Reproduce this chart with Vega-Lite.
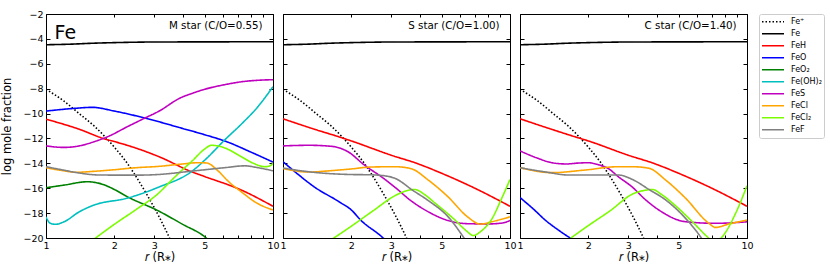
{
  "$schema": "https://vega.github.io/schema/vega-lite/v6.json",
  "padding": {"left": 1, "top": 9, "right": 4, "bottom": 2},
  "spacing": 10,
  "bounds": "flush",
  "config": {
    "font": "DejaVu Sans",
    "view": {"stroke": null},
    "axis": {"domainColor": "black", "domainWidth": 1, "tickColor": "black", "tickWidth": 1, "labelColor": "black", "labelFont": "DejaVu Sans", "labelFontSize": 9.5, "titleFont": "DejaVu Sans", "titleFontWeight": "normal", "titleColor": "black", "titleFontSize": 11.5, "grid": false, "labelFlush": false, "labelOverlap": false, "labelBound": false},
    "axisX": {"tickSize": -3, "labelPadding": 5, "titlePadding": 1.5},
    "axisY": {"tickSize": -4, "labelPadding": 7, "titlePadding": 10},
    "legend": {"orient": "right", "offset": 5, "padding": 2, "strokeColor": "#cccccc", "strokeWidth": 1, "cornerRadius": 2, "fillColor": "white", "symbolType": "stroke", "symbolSize": 484, "symbolStrokeWidth": 1.5, "labelFontSize": 8, "labelFont": "DejaVu Sans", "labelColor": "black", "clipHeight": 11.55, "rowPadding": 0, "labelOffset": 6, "labelLimit": 200}
  },
  "datasets": {
    "curves": [
      {"star":"M","species":"Fe⁺","r":1,"v":-8.05},{"star":"M","species":"Fe⁺","r":1.2,"v":-9.0},{"star":"M","species":"Fe⁺","r":1.4,"v":-10.0},{"star":"M","species":"Fe⁺","r":1.63,"v":-11.0},{"star":"M","species":"Fe⁺","r":2,"v":-12.7},{"star":"M","species":"Fe⁺","r":2.28,"v":-14.0},{"star":"M","species":"Fe⁺","r":2.44,"v":-14.8},{"star":"M","species":"Fe⁺","r":2.8,"v":-16.6},{"star":"M","species":"Fe⁺","r":3.15,"v":-18.3},{"star":"M","species":"Fe⁺","r":3.5,"v":-20.0},{"star":"M","species":"Fe⁺","r":3.6,"v":-20.5},
      {"star":"S","species":"Fe⁺","r":1,"v":-8.05},{"star":"S","species":"Fe⁺","r":1.2,"v":-9.0},{"star":"S","species":"Fe⁺","r":1.4,"v":-10.0},{"star":"S","species":"Fe⁺","r":1.63,"v":-11.0},{"star":"S","species":"Fe⁺","r":2,"v":-12.7},{"star":"S","species":"Fe⁺","r":2.28,"v":-14.0},{"star":"S","species":"Fe⁺","r":2.44,"v":-14.8},{"star":"S","species":"Fe⁺","r":2.8,"v":-16.6},{"star":"S","species":"Fe⁺","r":3.15,"v":-18.3},{"star":"S","species":"Fe⁺","r":3.5,"v":-20.0},{"star":"S","species":"Fe⁺","r":3.6,"v":-20.5},
      {"star":"C","species":"Fe⁺","r":1,"v":-8.05},{"star":"C","species":"Fe⁺","r":1.2,"v":-9.0},{"star":"C","species":"Fe⁺","r":1.4,"v":-10.0},{"star":"C","species":"Fe⁺","r":1.63,"v":-11.0},{"star":"C","species":"Fe⁺","r":2,"v":-12.7},{"star":"C","species":"Fe⁺","r":2.28,"v":-14.0},{"star":"C","species":"Fe⁺","r":2.44,"v":-14.8},{"star":"C","species":"Fe⁺","r":2.8,"v":-16.6},{"star":"C","species":"Fe⁺","r":3.15,"v":-18.3},{"star":"C","species":"Fe⁺","r":3.5,"v":-20.0},{"star":"C","species":"Fe⁺","r":3.6,"v":-20.5},
      {"star":"M","species":"Fe","r":1,"v":-4.47},{"star":"M","species":"Fe","r":1.3,"v":-4.42},{"star":"M","species":"Fe","r":1.6,"v":-4.35},{"star":"M","species":"Fe","r":2,"v":-4.3},{"star":"M","species":"Fe","r":3,"v":-4.25},{"star":"M","species":"Fe","r":5,"v":-4.24},{"star":"M","species":"Fe","r":10,"v":-4.23},
      {"star":"S","species":"Fe","r":1,"v":-4.47},{"star":"S","species":"Fe","r":1.3,"v":-4.42},{"star":"S","species":"Fe","r":1.6,"v":-4.35},{"star":"S","species":"Fe","r":2,"v":-4.3},{"star":"S","species":"Fe","r":3,"v":-4.25},{"star":"S","species":"Fe","r":5,"v":-4.24},{"star":"S","species":"Fe","r":10,"v":-4.23},
      {"star":"C","species":"Fe","r":1,"v":-4.47},{"star":"C","species":"Fe","r":1.3,"v":-4.42},{"star":"C","species":"Fe","r":1.6,"v":-4.35},{"star":"C","species":"Fe","r":2,"v":-4.3},{"star":"C","species":"Fe","r":3,"v":-4.25},{"star":"C","species":"Fe","r":5,"v":-4.24},{"star":"C","species":"Fe","r":10,"v":-4.23},
      {"star":"M","species":"FeH","r":1,"v":-10.45},{"star":"M","species":"FeH","r":1.37,"v":-11.2},{"star":"M","species":"FeH","r":1.86,"v":-12.1},{"star":"M","species":"FeH","r":2,"v":-12.25},{"star":"M","species":"FeH","r":3.15,"v":-13.47},{"star":"M","species":"FeH","r":4.37,"v":-14.67},{"star":"M","species":"FeH","r":5,"v":-15.06},{"star":"M","species":"FeH","r":7.24,"v":-16.14},{"star":"M","species":"FeH","r":10,"v":-17.45},
      {"star":"S","species":"FeH","r":1,"v":-10.42},{"star":"S","species":"FeH","r":1.37,"v":-11.25},{"star":"S","species":"FeH","r":1.77,"v":-11.88},{"star":"S","species":"FeH","r":2,"v":-12.2},{"star":"S","species":"FeH","r":3,"v":-13.35},{"star":"S","species":"FeH","r":3.88,"v":-14.0},{"star":"S","species":"FeH","r":5,"v":-14.8},{"star":"S","species":"FeH","r":7,"v":-16.0},{"star":"S","species":"FeH","r":10,"v":-17.45},
      {"star":"C","species":"FeH","r":1,"v":-10.42},{"star":"C","species":"FeH","r":1.37,"v":-11.25},{"star":"C","species":"FeH","r":1.77,"v":-11.9},{"star":"C","species":"FeH","r":2,"v":-12.2},{"star":"C","species":"FeH","r":3,"v":-13.35},{"star":"C","species":"FeH","r":3.88,"v":-14.0},{"star":"C","species":"FeH","r":5,"v":-14.8},{"star":"C","species":"FeH","r":7,"v":-16.0},{"star":"C","species":"FeH","r":10,"v":-17.45},
      {"star":"M","species":"FeO","r":1,"v":-9.8},{"star":"M","species":"FeO","r":1.3,"v":-9.6},{"star":"M","species":"FeO","r":1.6,"v":-9.5},{"star":"M","species":"FeO","r":2,"v":-9.8},{"star":"M","species":"FeO","r":2.78,"v":-10.4},{"star":"M","species":"FeO","r":4,"v":-11.2},{"star":"M","species":"FeO","r":5,"v":-11.7},{"star":"M","species":"FeO","r":6.25,"v":-12.26},{"star":"M","species":"FeO","r":8,"v":-13.1},{"star":"M","species":"FeO","r":10,"v":-13.9},
      {"star":"S","species":"FeO","r":1,"v":-13.87},{"star":"S","species":"FeO","r":1.15,"v":-14.8},{"star":"S","species":"FeO","r":1.37,"v":-15.88},{"star":"S","species":"FeO","r":1.77,"v":-17.1},{"star":"S","species":"FeO","r":2.0,"v":-17.75},{"star":"S","species":"FeO","r":2.21,"v":-18.6},{"star":"S","species":"FeO","r":2.7,"v":-19.84},{"star":"S","species":"FeO","r":2.8,"v":-20.1},
      {"star":"C","species":"FeO","r":1,"v":-16.75},{"star":"C","species":"FeO","r":1.15,"v":-17.7},{"star":"C","species":"FeO","r":1.29,"v":-18.55},{"star":"C","species":"FeO","r":1.5,"v":-19.45},{"star":"C","species":"FeO","r":1.68,"v":-20.05},
      {"star":"M","species":"FeO₂","r":1,"v":-15.96},{"star":"M","species":"FeO₂","r":1.2,"v":-15.75},{"star":"M","species":"FeO₂","r":1.52,"v":-15.48},{"star":"M","species":"FeO₂","r":1.75,"v":-15.65},{"star":"M","species":"FeO₂","r":2,"v":-16.1},{"star":"M","species":"FeO₂","r":2.28,"v":-16.68},{"star":"M","species":"FeO₂","r":3.11,"v":-17.8},{"star":"M","species":"FeO₂","r":4,"v":-18.9},{"star":"M","species":"FeO₂","r":5,"v":-19.9},{"star":"M","species":"FeO₂","r":5.3,"v":-20.3},
      {"star":"M","species":"Fe(OH)₂","r":1,"v":-18.3},{"star":"M","species":"Fe(OH)₂","r":1.04,"v":-18.8},{"star":"M","species":"Fe(OH)₂","r":1.1,"v":-18.9},{"star":"M","species":"Fe(OH)₂","r":1.2,"v":-18.7},{"star":"M","species":"Fe(OH)₂","r":1.4,"v":-17.9},{"star":"M","species":"Fe(OH)₂","r":1.63,"v":-17.35},{"star":"M","species":"Fe(OH)₂","r":2.28,"v":-16.8},{"star":"M","species":"Fe(OH)₂","r":3.15,"v":-15.9},{"star":"M","species":"Fe(OH)₂","r":4.37,"v":-14.67},{"star":"M","species":"Fe(OH)₂","r":5.1,"v":-13.6},{"star":"M","species":"Fe(OH)₂","r":6.12,"v":-12.13},{"star":"M","species":"Fe(OH)₂","r":7.3,"v":-10.8},{"star":"M","species":"Fe(OH)₂","r":8.58,"v":-9.45},{"star":"M","species":"Fe(OH)₂","r":10,"v":-7.84},
      {"star":"M","species":"FeS","r":1,"v":-12.6},{"star":"M","species":"FeS","r":1.2,"v":-12.72},{"star":"M","species":"FeS","r":1.4,"v":-12.6},{"star":"M","species":"FeS","r":1.63,"v":-12.26},{"star":"M","species":"FeS","r":1.9,"v":-11.8},{"star":"M","species":"FeS","r":2.28,"v":-11.06},{"star":"M","species":"FeS","r":2.7,"v":-10.4},{"star":"M","species":"FeS","r":3.15,"v":-9.8},{"star":"M","species":"FeS","r":3.9,"v":-8.75},{"star":"M","species":"FeS","r":4.37,"v":-8.4},{"star":"M","species":"FeS","r":5,"v":-8.05},{"star":"M","species":"FeS","r":6.25,"v":-7.65},{"star":"M","species":"FeS","r":7.24,"v":-7.45},{"star":"M","species":"FeS","r":8.5,"v":-7.33},{"star":"M","species":"FeS","r":10,"v":-7.28},
      {"star":"S","species":"FeS","r":1,"v":-12.6},{"star":"S","species":"FeS","r":1.3,"v":-12.55},{"star":"S","species":"FeS","r":1.63,"v":-12.63},{"star":"S","species":"FeS","r":1.93,"v":-13.06},{"star":"S","species":"FeS","r":2.28,"v":-14.13},{"star":"S","species":"FeS","r":2.77,"v":-15.2},{"star":"S","species":"FeS","r":3.15,"v":-16.0},{"star":"S","species":"FeS","r":3.63,"v":-16.95},{"star":"S","species":"FeS","r":4.37,"v":-17.9},{"star":"S","species":"FeS","r":5.34,"v":-18.6},{"star":"S","species":"FeS","r":6.5,"v":-18.85},{"star":"S","species":"FeS","r":8,"v":-18.87},{"star":"S","species":"FeS","r":9.2,"v":-18.8},{"star":"S","species":"FeS","r":10,"v":-18.6},
      {"star":"C","species":"FeS","r":1,"v":-13.0},{"star":"C","species":"FeS","r":1.2,"v":-13.6},{"star":"C","species":"FeS","r":1.38,"v":-13.95},{"star":"C","species":"FeS","r":1.6,"v":-14.05},{"star":"C","species":"FeS","r":1.8,"v":-13.98},{"star":"C","species":"FeS","r":2.0,"v":-13.95},{"star":"C","species":"FeS","r":2.2,"v":-14.1},{"star":"C","species":"FeS","r":2.45,"v":-14.42},{"star":"C","species":"FeS","r":2.71,"v":-15.07},{"star":"C","species":"FeS","r":3.12,"v":-15.9},{"star":"C","species":"FeS","r":3.58,"v":-16.94},{"star":"C","species":"FeS","r":4.09,"v":-17.75},{"star":"C","species":"FeS","r":5.36,"v":-18.69},{"star":"C","species":"FeS","r":7.26,"v":-18.82},{"star":"C","species":"FeS","r":10,"v":-18.7},
      {"star":"M","species":"FeCl","r":1,"v":-14.35},{"star":"M","species":"FeCl","r":1.15,"v":-14.55},{"star":"M","species":"FeCl","r":1.37,"v":-14.72},{"star":"M","species":"FeCl","r":1.6,"v":-14.65},{"star":"M","species":"FeCl","r":1.93,"v":-14.54},{"star":"M","species":"FeCl","r":2.5,"v":-14.35},{"star":"M","species":"FeCl","r":3.11,"v":-14.25},{"star":"M","species":"FeCl","r":4,"v":-14.05},{"star":"M","species":"FeCl","r":4.67,"v":-13.95},{"star":"M","species":"FeCl","r":5.1,"v":-13.97},{"star":"M","species":"FeCl","r":5.72,"v":-14.6},{"star":"M","species":"FeCl","r":6.4,"v":-15.5},{"star":"M","species":"FeCl","r":7.24,"v":-16.28},{"star":"M","species":"FeCl","r":8.5,"v":-17.2},{"star":"M","species":"FeCl","r":10,"v":-17.75},
      {"star":"S","species":"FeCl","r":1,"v":-14.42},{"star":"S","species":"FeCl","r":1.3,"v":-14.7},{"star":"S","species":"FeCl","r":1.6,"v":-14.6},{"star":"S","species":"FeCl","r":2,"v":-14.45},{"star":"S","species":"FeCl","r":2.42,"v":-14.3},{"star":"S","species":"FeCl","r":3.1,"v":-14.27},{"star":"S","species":"FeCl","r":3.5,"v":-14.35},{"star":"S","species":"FeCl","r":3.7,"v":-14.45},{"star":"S","species":"FeCl","r":4.37,"v":-15.35},{"star":"S","species":"FeCl","r":5.34,"v":-16.7},{"star":"S","species":"FeCl","r":6.5,"v":-18.3},{"star":"S","species":"FeCl","r":7.4,"v":-18.88},{"star":"S","species":"FeCl","r":8.3,"v":-18.7},{"star":"S","species":"FeCl","r":10,"v":-18.3},
      {"star":"C","species":"FeCl","r":1,"v":-14.35},{"star":"C","species":"FeCl","r":1.38,"v":-14.75},{"star":"C","species":"FeCl","r":1.93,"v":-14.54},{"star":"C","species":"FeCl","r":2.71,"v":-14.27},{"star":"C","species":"FeCl","r":3.13,"v":-14.27},{"star":"C","species":"FeCl","r":3.7,"v":-14.4},{"star":"C","species":"FeCl","r":4.38,"v":-15.34},{"star":"C","species":"FeCl","r":5.36,"v":-16.8},{"star":"C","species":"FeCl","r":6.79,"v":-18.82},{"star":"C","species":"FeCl","r":7.26,"v":-19.15},{"star":"C","species":"FeCl","r":8.3,"v":-18.88},{"star":"C","species":"FeCl","r":10,"v":-18.56},
      {"star":"M","species":"FeCl₂","r":1.64,"v":-20.05},{"star":"M","species":"FeCl₂","r":2,"v":-18.9},{"star":"M","species":"FeCl₂","r":2.5,"v":-17.7},{"star":"M","species":"FeCl₂","r":3.11,"v":-16.45},{"star":"M","species":"FeCl₂","r":3.6,"v":-15.3},{"star":"M","species":"FeCl₂","r":4.0,"v":-14.5},{"star":"M","species":"FeCl₂","r":4.37,"v":-13.87},{"star":"M","species":"FeCl₂","r":5,"v":-12.85},{"star":"M","species":"FeCl₂","r":5.35,"v":-12.55},{"star":"M","species":"FeCl₂","r":6,"v":-12.7},{"star":"M","species":"FeCl₂","r":7.24,"v":-13.46},{"star":"M","species":"FeCl₂","r":8.2,"v":-14.0},{"star":"M","species":"FeCl₂","r":9.2,"v":-14.27},{"star":"M","species":"FeCl₂","r":9.7,"v":-14.2},{"star":"M","species":"FeCl₂","r":10,"v":-14.0},
      {"star":"S","species":"FeCl₂","r":1.66,"v":-20.05},{"star":"S","species":"FeCl₂","r":2,"v":-19.05},{"star":"S","species":"FeCl₂","r":2.5,"v":-17.8},{"star":"S","species":"FeCl₂","r":3.15,"v":-16.55},{"star":"S","species":"FeCl₂","r":3.6,"v":-16.15},{"star":"S","species":"FeCl₂","r":3.8,"v":-16.1},{"star":"S","species":"FeCl₂","r":4.2,"v":-16.5},{"star":"S","species":"FeCl₂","r":4.68,"v":-17.2},{"star":"S","species":"FeCl₂","r":5.72,"v":-18.55},{"star":"S","species":"FeCl₂","r":6.4,"v":-19.4},{"star":"S","species":"FeCl₂","r":6.9,"v":-19.8},{"star":"S","species":"FeCl₂","r":7.4,"v":-19.5},{"star":"S","species":"FeCl₂","r":8.3,"v":-18.5},{"star":"S","species":"FeCl₂","r":9.2,"v":-16.8},{"star":"S","species":"FeCl₂","r":10,"v":-15.3},
      {"star":"C","species":"FeCl₂","r":1.66,"v":-20.05},{"star":"C","species":"FeCl₂","r":2,"v":-19.0},{"star":"C","species":"FeCl₂","r":2.5,"v":-17.8},{"star":"C","species":"FeCl₂","r":3.13,"v":-16.47},{"star":"C","species":"FeCl₂","r":3.6,"v":-16.15},{"star":"C","species":"FeCl₂","r":3.83,"v":-16.1},{"star":"C","species":"FeCl₂","r":4.2,"v":-16.5},{"star":"C","species":"FeCl₂","r":4.7,"v":-17.2},{"star":"C","species":"FeCl₂","r":5.75,"v":-18.7},{"star":"C","species":"FeCl₂","r":6.68,"v":-19.9},{"star":"C","species":"FeCl₂","r":7.2,"v":-20.4},{"star":"C","species":"FeCl₂","r":7.78,"v":-19.9},{"star":"C","species":"FeCl₂","r":8.92,"v":-18.0},{"star":"C","species":"FeCl₂","r":10,"v":-15.8},
      {"star":"M","species":"FeF","r":1,"v":-14.27},{"star":"M","species":"FeF","r":1.2,"v":-14.55},{"star":"M","species":"FeF","r":1.37,"v":-14.75},{"star":"M","species":"FeF","r":1.74,"v":-14.94},{"star":"M","species":"FeF","r":2.5,"v":-14.95},{"star":"M","species":"FeF","r":3.11,"v":-14.9},{"star":"M","species":"FeF","r":4.37,"v":-14.63},{"star":"M","species":"FeF","r":6.12,"v":-14.35},{"star":"M","species":"FeF","r":7.5,"v":-14.2},{"star":"M","species":"FeF","r":8.58,"v":-14.35},{"star":"M","species":"FeF","r":10,"v":-14.6},
      {"star":"S","species":"FeF","r":1,"v":-14.37},{"star":"S","species":"FeF","r":1.2,"v":-14.6},{"star":"S","species":"FeF","r":1.46,"v":-14.77},{"star":"S","species":"FeF","r":2,"v":-14.9},{"star":"S","species":"FeF","r":2.42,"v":-14.92},{"star":"S","species":"FeF","r":2.8,"v":-15.0},{"star":"S","species":"FeF","r":3.11,"v":-15.2},{"star":"S","species":"FeF","r":3.75,"v":-16.2},{"star":"S","species":"FeF","r":4.37,"v":-17.0},{"star":"S","species":"FeF","r":5.34,"v":-18.3},{"star":"S","species":"FeF","r":6.3,"v":-20.05},
      {"star":"C","species":"FeF","r":1,"v":-14.35},{"star":"C","species":"FeF","r":1.3,"v":-14.7},{"star":"C","species":"FeF","r":1.64,"v":-14.94},{"star":"C","species":"FeF","r":2.71,"v":-14.94},{"star":"C","species":"FeF","r":3.13,"v":-15.3},{"star":"C","species":"FeF","r":3.7,"v":-16.1},{"star":"C","species":"FeF","r":4.38,"v":-16.94},{"star":"C","species":"FeF","r":5.36,"v":-18.42},{"star":"C","species":"FeF","r":6.24,"v":-19.9},{"star":"C","species":"FeF","r":6.35,"v":-20.1}
    ]
  },
  "hconcat": [
    {
      "width": 227, "height": 224,
      "layer": [
        {
          "data": {"name": "curves"},
          "transform": [{"filter": "datum.star === 'M'"}],
          "mark": {"type": "line", "clip": true, "strokeWidth": 1.6, "interpolate": "monotone"},
          "encoding": {
            "x": {"field": "r", "type": "quantitative", "scale": {"type": "log", "domain": [1, 10]}, "axis": {"orient": "bottom", "values": [1,2,3,4,5,6,7,8,9,10], "labelExpr": "indexof([1,2,3,5,10], datum.value) >= 0 ? format(datum.value, 'd') : ''", "title": "𝑟 (R⁎)"}},
            "y": {"field": "v", "type": "quantitative", "scale": {"domain": [-20, -2]}, "axis": {"orient": "left", "values": [-20,-18,-16,-14,-12,-10,-8,-6,-4,-2], "title": "log mole fraction"}},
            "color": {"field": "species", "type": "nominal", "scale": {"domain": ["Fe⁺","Fe","FeH","FeO","FeO₂","Fe(OH)₂","FeS","FeCl","FeCl₂","FeF"], "range": ["#000000","#000000","#ff0000","#0000ff","#008000","#00bfbf","#bf00bf","#ffa500","#7cfc00","#808080"]}, "legend": {"title": null}},
            "strokeDash": {"field": "species", "type": "nominal", "scale": {"domain": ["Fe⁺","Fe","FeH","FeO","FeO₂","Fe(OH)₂","FeS","FeCl","FeCl₂","FeF"], "range": [[1.5,2],[1,0],[1,0],[1,0],[1,0],[1,0],[1,0],[1,0],[1,0],[1,0]]}, "legend": {"title": null}}
          }
        },
        {
          "data": {"values": [{"t": "M star (C/O=0.55)"}]},
          "mark": {"type": "text", "align": "right", "baseline": "middle", "fontSize": 10.3, "color": "black"},
          "encoding": {"x": {"datum": 9.0, "type": "quantitative", "axis": null}, "y": {"datum": -2.95, "type": "quantitative", "axis": null}, "text": {"field": "t"}}
        },
        {
          "data": {"values": [{"t": "Fe"}]},
          "mark": {"type": "text", "align": "left", "baseline": "alphabetic", "fontSize": 19, "color": "black"},
          "encoding": {"x": {"datum": 1.09, "type": "quantitative", "axis": null}, "y": {"datum": -4.0, "type": "quantitative", "axis": null}, "text": {"field": "t"}}
        },
        {
          "data": {"name": "curves"},
          "transform": [{"filter": "datum.star === 'M'"}],
          "mark": {"type": "line", "opacity": 0},
          "encoding": {
            "x": {"field": "r", "type": "quantitative", "axis": {"orient": "top", "labels": false, "title": null, "values": [1,2,3,4,5,6,7,8,9,10]}},
            "y": {"field": "v", "type": "quantitative", "axis": {"orient": "right", "labels": false, "title": null, "values": [-20,-18,-16,-14,-12,-10,-8,-6,-4,-2]}},
            "detail": {"field": "species"}
          }
        }
      ],
      "resolve": {"axis": {"x": "independent", "y": "independent"}}
    },
    {
      "width": 227, "height": 224,
      "layer": [
        {
          "data": {"name": "curves"},
          "transform": [{"filter": "datum.star === 'S'"}],
          "mark": {"type": "line", "clip": true, "strokeWidth": 1.6, "interpolate": "monotone"},
          "encoding": {
            "x": {"field": "r", "type": "quantitative", "scale": {"type": "log", "domain": [1, 10]}, "axis": {"orient": "bottom", "values": [1,2,3,4,5,6,7,8,9,10], "labelExpr": "indexof([1,2,3,5,10], datum.value) >= 0 ? format(datum.value, 'd') : ''", "title": "𝑟 (R⁎)"}},
            "y": {"field": "v", "type": "quantitative", "scale": {"domain": [-20, -2]}, "axis": {"orient": "left", "values": [-20,-18,-16,-14,-12,-10,-8,-6,-4,-2], "labels": false, "title": null}},
            "color": {"field": "species", "type": "nominal", "scale": {"domain": ["Fe⁺","Fe","FeH","FeO","FeO₂","Fe(OH)₂","FeS","FeCl","FeCl₂","FeF"], "range": ["#000000","#000000","#ff0000","#0000ff","#008000","#00bfbf","#bf00bf","#ffa500","#7cfc00","#808080"]}, "legend": {"title": null}},
            "strokeDash": {"field": "species", "type": "nominal", "scale": {"domain": ["Fe⁺","Fe","FeH","FeO","FeO₂","Fe(OH)₂","FeS","FeCl","FeCl₂","FeF"], "range": [[1.5,2],[1,0],[1,0],[1,0],[1,0],[1,0],[1,0],[1,0],[1,0],[1,0]]}, "legend": {"title": null}}
          }
        },
        {
          "data": {"values": [{"t": "S star (C/O=1.00)"}]},
          "mark": {"type": "text", "align": "right", "baseline": "middle", "fontSize": 10.3, "color": "black"},
          "encoding": {"x": {"datum": 9.0, "type": "quantitative", "axis": null}, "y": {"datum": -2.95, "type": "quantitative", "axis": null}, "text": {"field": "t"}}
        },
        {
          "data": {"name": "curves"},
          "transform": [{"filter": "datum.star === 'S'"}],
          "mark": {"type": "line", "opacity": 0},
          "encoding": {
            "x": {"field": "r", "type": "quantitative", "axis": {"orient": "top", "labels": false, "title": null, "values": [1,2,3,4,5,6,7,8,9,10]}},
            "y": {"field": "v", "type": "quantitative", "axis": {"orient": "right", "labels": false, "title": null, "values": [-20,-18,-16,-14,-12,-10,-8,-6,-4,-2]}},
            "detail": {"field": "species"}
          }
        }
      ],
      "resolve": {"axis": {"x": "independent", "y": "independent"}}
    },
    {
      "width": 227, "height": 224,
      "layer": [
        {
          "data": {"name": "curves"},
          "transform": [{"filter": "datum.star === 'C'"}],
          "mark": {"type": "line", "clip": true, "strokeWidth": 1.6, "interpolate": "monotone"},
          "encoding": {
            "x": {"field": "r", "type": "quantitative", "scale": {"type": "log", "domain": [1, 10]}, "axis": {"orient": "bottom", "values": [1,2,3,4,5,6,7,8,9,10], "labelExpr": "indexof([1,2,3,5,10], datum.value) >= 0 ? format(datum.value, 'd') : ''", "title": "𝑟 (R⁎)"}},
            "y": {"field": "v", "type": "quantitative", "scale": {"domain": [-20, -2]}, "axis": {"orient": "left", "values": [-20,-18,-16,-14,-12,-10,-8,-6,-4,-2], "labels": false, "title": null}},
            "color": {"field": "species", "type": "nominal", "scale": {"domain": ["Fe⁺","Fe","FeH","FeO","FeO₂","Fe(OH)₂","FeS","FeCl","FeCl₂","FeF"], "range": ["#000000","#000000","#ff0000","#0000ff","#008000","#00bfbf","#bf00bf","#ffa500","#7cfc00","#808080"]}, "legend": {"title": null}},
            "strokeDash": {"field": "species", "type": "nominal", "scale": {"domain": ["Fe⁺","Fe","FeH","FeO","FeO₂","Fe(OH)₂","FeS","FeCl","FeCl₂","FeF"], "range": [[1.5,2],[1,0],[1,0],[1,0],[1,0],[1,0],[1,0],[1,0],[1,0],[1,0]]}, "legend": {"title": null}}
          }
        },
        {
          "data": {"values": [{"t": "C star (C/O=1.40)"}]},
          "mark": {"type": "text", "align": "right", "baseline": "middle", "fontSize": 10.3, "color": "black"},
          "encoding": {"x": {"datum": 9.0, "type": "quantitative", "axis": null}, "y": {"datum": -2.95, "type": "quantitative", "axis": null}, "text": {"field": "t"}}
        },
        {
          "data": {"name": "curves"},
          "transform": [{"filter": "datum.star === 'C'"}],
          "mark": {"type": "line", "opacity": 0},
          "encoding": {
            "x": {"field": "r", "type": "quantitative", "axis": {"orient": "top", "labels": false, "title": null, "values": [1,2,3,4,5,6,7,8,9,10]}},
            "y": {"field": "v", "type": "quantitative", "axis": {"orient": "right", "labels": false, "title": null, "values": [-20,-18,-16,-14,-12,-10,-8,-6,-4,-2]}},
            "detail": {"field": "species"}
          }
        }
      ],
      "resolve": {"axis": {"x": "independent", "y": "independent"}}
    }
  ]
}
